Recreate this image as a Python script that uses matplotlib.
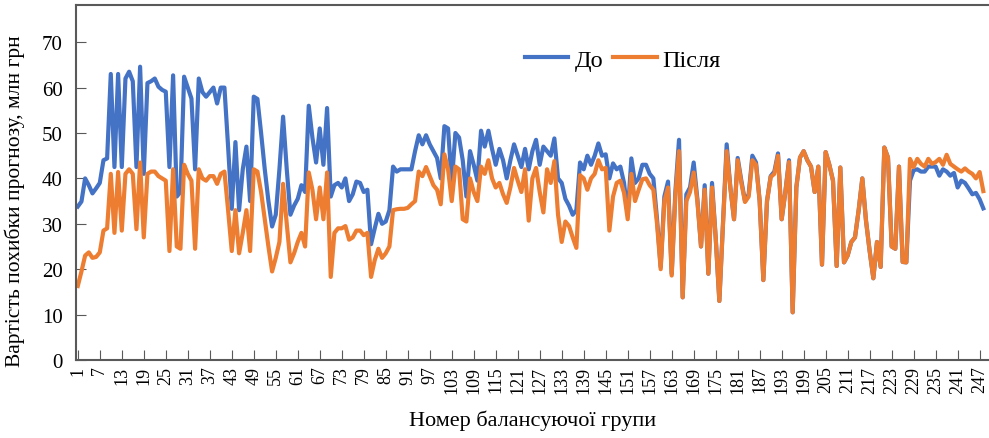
import numpy as np
import matplotlib
matplotlib.use("Agg")
import matplotlib.pyplot as plt

plt.rcParams['font.family'] = ['Liberation Serif', 'DejaVu Serif']

# Номери балансуючих груп
groups = np.arange(1, 249)

# Вартість похибки прогнозу, млн грн - до
before = [
    33.8, 34.9, 40, 38.5, 36.7, 37.8, 39, 44, 44.4, 63,
    42.5, 63, 42.5, 62, 63.5, 61.4, 42.5, 64.6, 41, 61,
    61.4, 62, 60.2, 59.5, 59.1, 42.5, 62.7, 36, 37, 62.4,
    60, 57.6, 42, 62, 59, 58, 59, 60, 56.5, 60,
    60, 47, 33.3, 48, 33, 42, 47, 35, 58, 57.5,
    50, 42, 35, 29.4, 32, 42, 53.6, 42, 32, 34,
    35.5, 38.5, 37, 56, 49, 43.5, 51, 43, 55.5, 36,
    38.5, 39, 38, 40, 35, 36.5, 39.3, 39, 37, 37.5,
    25.5, 29, 32.2, 30, 30.5, 33, 42.6, 41.5, 42, 42,
    42, 42, 46, 49.5, 47.5, 49.5, 47.5, 46, 44.5, 40,
    51.5, 51, 39, 50, 49, 44, 36, 46, 43, 39.5,
    50.5, 47, 50.5, 46.5, 43, 46.5, 44, 40, 44, 47.5,
    45, 42.5, 46.5, 42, 46, 48.5, 43, 47, 46, 45,
    48.8, 40, 39, 35.5, 34, 32, 33, 43.5, 42, 45,
    43, 45, 47.7, 45, 45.3, 40, 43.3, 42, 42.6, 39,
    32, 44.4, 39, 40, 43, 43, 41, 40, 31, 20.5,
    36, 39.3, 19, 37, 48.5, 13.8, 36.5, 38, 43.5, 35.5,
    25, 38.5, 19, 39, 27, 13, 30, 47.5, 38, 31,
    44.5, 39.5, 35, 36.5, 45, 43.5, 35, 17.6, 35, 40.5,
    41.5, 45.5, 31, 37, 44, 10.5, 38, 44.6, 46, 44,
    42.6, 37, 42.6, 21, 45.8, 43, 39.5, 20.7, 42.4, 21.5,
    23, 26, 27, 33, 40, 30.7, 24, 18, 26, 20.5,
    46.8, 44.6, 25, 24.5, 42.6, 21.6, 21.5, 39.5, 41.8, 42,
    41.5, 41.5, 42.6, 42.6, 42.6, 40.6, 42, 41.5, 40.6, 41.2,
    38, 39.5, 39, 37.8, 36.5, 36.8, 35.4, 33.4,
]

# після
after = [
    16.3, 19.5, 23, 23.7, 22.5, 22.7, 23.7, 28.5, 29, 41,
    28, 41.4, 28.5, 41, 42, 41, 28.8, 43.5, 27, 41,
    41.5, 41.5, 40.5, 40, 39.5, 24, 42, 25, 24.5, 43,
    41, 39.5, 24.5, 42, 40, 39.5, 40.5, 40.5, 38.8, 41,
    41.5, 33, 24, 33, 23.5, 28, 33, 24, 42, 41.5,
    37, 31, 25, 19.5, 22.5, 26, 38.8, 30, 21.5, 23.5,
    26, 28, 25, 41.3, 37.5, 31, 38, 31, 41.3, 18.3,
    28, 29, 29, 29.5, 26.5, 27, 28.5, 28.5, 27.5, 28,
    18.3, 22, 24.5, 22.5, 23.5, 25, 33, 33.2, 33.3, 33.3,
    33.5, 34.3, 35, 41.5, 40.5, 42.5, 40.5, 38.5, 37.5, 34.3,
    45.3, 42, 35, 42.6, 42, 31, 30.5, 40, 37, 35,
    42.6, 41, 44, 40, 38, 39, 36.5, 34.6, 38, 42.3,
    39.5, 37, 42, 30.7, 40, 42.3, 37, 32.5, 42, 39,
    43.8, 32, 26, 30.5, 29.5, 27, 24.7, 40.7, 40, 37.5,
    40, 41, 44, 42, 42.3, 28.5, 36, 39, 39.5, 36.8,
    31, 41, 35, 37.5, 39.8, 40, 38.5, 37.5, 30, 20,
    35, 38, 18.6, 36, 46, 13.8, 35, 37, 41.3, 35,
    25, 37.5, 19, 38, 27, 13, 30, 46, 38, 31,
    44, 39, 34.8, 36, 44, 43, 35, 17.6, 35, 40.3,
    41, 45, 31, 37, 43.6, 10.5, 38, 44.6, 46, 44,
    42.6, 37, 42.6, 21, 45.8, 43, 39.5, 20.7, 42.4, 21.5,
    23, 26, 27, 33, 40, 30.7, 24, 18, 26, 20.5,
    46.8, 44.6, 25, 24.5, 42.6, 21.6, 21.5, 44.3, 42.5, 44.3,
    43.2, 42.6, 44.3, 43.2, 43.6, 44.3, 43, 45.2, 43.2, 42.6,
    42, 41.5, 42.2, 41.5, 41, 40, 41.4, 37.2,
]

xticks = list(range(1, 248, 6))
yticks = [0, 10, 20, 30, 40, 50, 60, 70]

fig = plt.figure(figsize=(9.89, 4.39), dpi=100)
ax = fig.add_axes([0.0768, 0.1777, 0.923, 0.8087])

ax.plot(groups, before, color='#4472C4', lw=3.0, label='До', solid_joinstyle='round')
ax.plot(groups, after, color='#ED7D31', lw=3.0, label='Після', solid_joinstyle='round')

ax.set_xlim(0.5, 249.5)
ax.set_ylim(0, 78.2)
ax.set_yticks(yticks)
ax.set_xticks(xticks)
ax.set_xticklabels([str(t) for t in xticks], rotation=90, fontsize=13)
ax.tick_params(axis='y', labelsize=15, direction='in', length=7, color='#595959', pad=9.5)
ax.tick_params(axis='x', direction='in', length=7, color='#595959', pad=4)

ax.spines['right'].set_visible(False)
for s in ['left', 'bottom', 'top']:
    ax.spines[s].set_color('#595959')
    ax.spines[s].set_linewidth(1.5)

ax.set_ylabel('Вартість похибки прогнозу, млн грн', fontsize=15.5)
ax.yaxis.set_label_coords(-0.056, 0.45)
ax.set_xlabel('Номер балансуючої групи', fontsize=16, labelpad=12)

ax.legend(loc='center', bbox_to_anchor=(0.599, 0.845), ncol=2, frameon=False,
          fontsize=17.5, handlelength=1.8, columnspacing=0.4, handletextpad=0.25)

fig.savefig('out.png', dpi=100)
